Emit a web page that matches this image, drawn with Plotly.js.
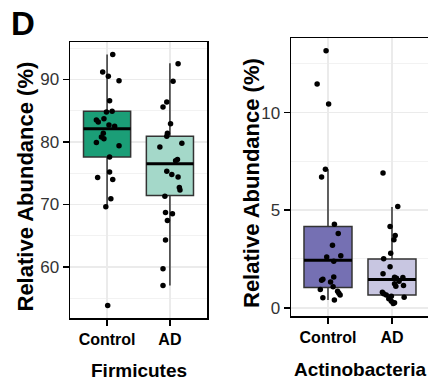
<!DOCTYPE html>
<html>
<head>
<meta charset="utf-8">
<script src="https://cdn.plot.ly/plotly-3.0.1.min.js"></script>
<style>html,body{margin:0;padding:0;overflow:hidden;background:#fff;}#chart{width:432px;height:385px;}</style>
</head>
<body>
<div id="chart"></div>
<script>
// ---- data ----
const groups = ['Control', 'AD'];
const panelTitles = ['Firmicutes', 'Actinobacteria'];
const yTitle = 'Relative Abundance (%)';
const panelLetter = 'D';

// Firmicutes box statistics [Control, AD]
const firmQ1 = [77.6, 71.4];
const firmMedian = [82.1, 76.5];
const firmQ3 = [84.9, 80.9];
const firmLower = [69.6, 57.0];
const firmUpper = [94.0, 92.6];

// Actinobacteria box statistics [Control, AD]
const actQ1 = [1.04, 0.66];
const actMedian = [2.43, 1.45];
const actQ3 = [4.17, 2.50];
const actLower = [0.40, 0.22];
const actUpper = [7.10, 5.16];

// Individual samples (values) and their horizontal jitter
const firmControl = [94.0, 91.2, 90.5, 89.8, 86.6, 84.9, 84.8, 83.7, 83.5, 83.2, 82.7, 82.5, 81.4, 80.8, 80.5, 79.9, 79.4, 77.6, 75.2, 74.3, 74.0, 70.9, 69.6, 53.8];
const firmControlJitter = [0.09, -0.07, 0.02, 0.19, 0.04, 0.08, -0.01, -0.05, -0.17, -0.14, 0.03, 0.12, -0.06, -0.09, -0.05, -0.17, 0.19, 0.04, 0.04, -0.15, 0.09, 0.06, -0.02, 0.01];
const firmAD = [92.5, 89.7, 86.4, 85.6, 82.9, 81.4, 80.9, 79.8, 79.2, 77.2, 77.0, 75.3, 74.8, 74.4, 72.7, 72.3, 71.3, 68.7, 68.5, 67.4, 64.3, 59.7, 57.0];
const firmADJitter = [0.13, 0.05, -0.05, -0.11, 0.01, -0.04, -0.05, 0.19, -0.16, 0.12, 0.09, -0.05, 0.03, 0.13, 0.15, 0.16, -0.08, -0.07, 0.04, -0.04, -0.07, -0.11, -0.11];
const actControl = [13.17, 11.47, 10.44, 7.10, 6.70, 4.28, 3.81, 3.21, 2.67, 2.60, 2.38, 1.58, 1.46, 1.41, 1.32, 1.08, 0.94, 0.85, 0.75, 0.66, 0.51, 0.40];
const actControlJitter = [-0.03, -0.17, 0.01, -0.04, -0.10, 0.10, 0.16, 0.07, 0.20, -0.02, 0.09, 0.09, -0.08, -0.10, 0.04, 0.08, -0.12, 0.15, 0.17, 0.19, -0.08, 0.10];
const actAD = [6.90, 5.19, 4.17, 3.70, 3.49, 2.80, 2.51, 2.10, 1.75, 1.57, 1.52, 1.55, 1.36, 1.23, 1.14, 1.10, 0.80, 0.72, 0.65, 0.59, 0.54, 0.46, 0.34, 0.26, 0.22];
const actADJitter = [-0.14, 0.09, -0.03, 0.05, 0.03, -0.02, -0.13, -0.03, -0.14, 0.04, 0.07, 0.17, 0.11, 0.04, 0.18, 0.06, -0.15, -0.13, -0.09, -0.01, 0.19, -0.05, -0.01, 0.04, 0.02];

// ---- styling ----
const W = 432, H = 385;
const FONT = 'Liberation Sans, Arial, sans-serif';
const firmColors = ['#1b9e77', '#a4d8c9'];
const actColors = ['#7570b3', '#c8c6e1'];
const BOXW = 0.75;

const traces = [];
function addPanel(xa, ya, q1, med, q3, lo, hi, colors, pts, jit) {
  for (let i = 0; i < groups.length; i++) {
    traces.push({
      type: 'box', xaxis: xa, yaxis: ya, x: [i],
      q1: [q1[i]], median: [med[i]], q3: [q3[i]], lowerfence: [lo[i]], upperfence: [hi[i]],
      width: BOXW, whiskerwidth: 0, boxpoints: false,
      fillcolor: colors[i], line: {color: '#333333', width: 1.5},
      hoverinfo: 'skip', showlegend: false
    });
  }
  for (let i = 0; i < groups.length; i++) {
    traces.push({
      type: 'scatter', mode: 'lines', xaxis: xa, yaxis: ya,
      x: [i - BOXW / 2, i + BOXW / 2], y: [med[i], med[i]],
      line: {color: '#000', width: 3}, hoverinfo: 'skip', showlegend: false
    });
  }
  for (let i = 0; i < groups.length; i++) {
    traces.push({
      type: 'scatter', mode: 'markers', xaxis: xa, yaxis: ya,
      x: pts[i].map((v, k) => i + jit[i][k]), y: pts[i],
      marker: {color: '#000', size: 5.5}, hoverinfo: 'skip', showlegend: false
    });
  }
}
addPanel('x', 'y', firmQ1, firmMedian, firmQ3, firmLower, firmUpper, firmColors,
  [firmControl, firmAD], [firmControlJitter, firmADJitter]);
addPanel('x2', 'y2', actQ1, actMedian, actQ3, actLower, actUpper, actColors,
  [actControl, actAD], [actControlJitter, actADJitter]);

const xCommon = {
  tickvals: [0, 1], ticktext: groups, ticks: 'outside', ticklen: 6, tickwidth: 1.5, tickcolor: '#000',
  showline: true, mirror: true, linecolor: '#000', linewidth: 1.5,
  showgrid: true, gridcolor: '#ebebeb', gridwidth: 1.5, zeroline: false,
  tickfont: {family: FONT, size: 16, color: '#000', weight: 'bold'}, fixedrange: true
};
const yCommon = {
  ticks: 'outside', ticklen: 6, tickwidth: 1.5, tickcolor: '#000',
  showline: true, mirror: true, linecolor: '#000', linewidth: 1.5,
  showgrid: true, gridcolor: '#ebebeb', gridwidth: 1.5, zeroline: false,
  tickfont: {family: FONT, size: 17, color: '#333333'}, fixedrange: true
};

const layout = {
  width: W, height: H, margin: {l: 0, r: 0, t: 0, b: 0},
  paper_bgcolor: '#fff', plot_bgcolor: '#fff', showlegend: false, boxmode: 'overlay',
  xaxis: Object.assign({}, xCommon, {domain: [70 / W, 207 / W], range: [-0.59, 1.59], anchor: 'y'}),
  yaxis: Object.assign({}, yCommon, {domain: [(H - 318) / H, (H - 42) / H], range: [51.8, 96.0], anchor: 'x',
    tick0: 0, dtick: 10, minor: {dtick: 5, showgrid: true, gridcolor: '#f2f2f2', gridwidth: 1, ticks: ''}}),
  xaxis2: Object.assign({}, xCommon, {domain: [291 / W, 430 / W], range: [-0.578, 1.594], anchor: 'y2'}),
  yaxis2: Object.assign({}, yCommon, {domain: [(H - 316) / H, (H - 38) / H], range: [-0.42, 13.82], anchor: 'x2',
    tick0: 0, dtick: 5, minor: {dtick: 2.5, showgrid: true, gridcolor: '#f2f2f2', gridwidth: 1, ticks: ''}}),
  annotations: [
    {text: panelLetter, xref: 'paper', yref: 'paper', x: 23 / W, y: 1 - 23 / H, xanchor: 'center', yanchor: 'middle',
      showarrow: false, font: {family: FONT, size: 33, color: '#000', weight: 'bold'}},
    {text: yTitle, xref: 'paper', yref: 'paper', x: 24.5 / W, y: 1 - 187 / H, xanchor: 'center', yanchor: 'middle',
      textangle: -90, showarrow: false, font: {family: FONT, size: 22, color: '#000', weight: 'bold'}},
    {text: yTitle, xref: 'paper', yref: 'paper', x: 251 / W, y: 1 - 183 / H, xanchor: 'center', yanchor: 'middle',
      textangle: -90, showarrow: false, font: {family: FONT, size: 22, color: '#000', weight: 'bold'}},
    {text: panelTitles[0], xref: 'paper', yref: 'paper', x: 138.5 / W, y: 1 - 370 / H, xanchor: 'center', yanchor: 'middle',
      showarrow: false, font: {family: FONT, size: 19, color: '#000', weight: 'bold'}},
    {text: panelTitles[1], xref: 'paper', yref: 'paper', x: 360 / W, y: 1 - 369 / H, xanchor: 'center', yanchor: 'middle',
      showarrow: false, font: {family: FONT, size: 19, color: '#000', weight: 'bold'}}
  ]
};

Plotly.newPlot('chart', traces, layout, {staticPlot: true, displayModeBar: false});
</script>
</body>
</html>
